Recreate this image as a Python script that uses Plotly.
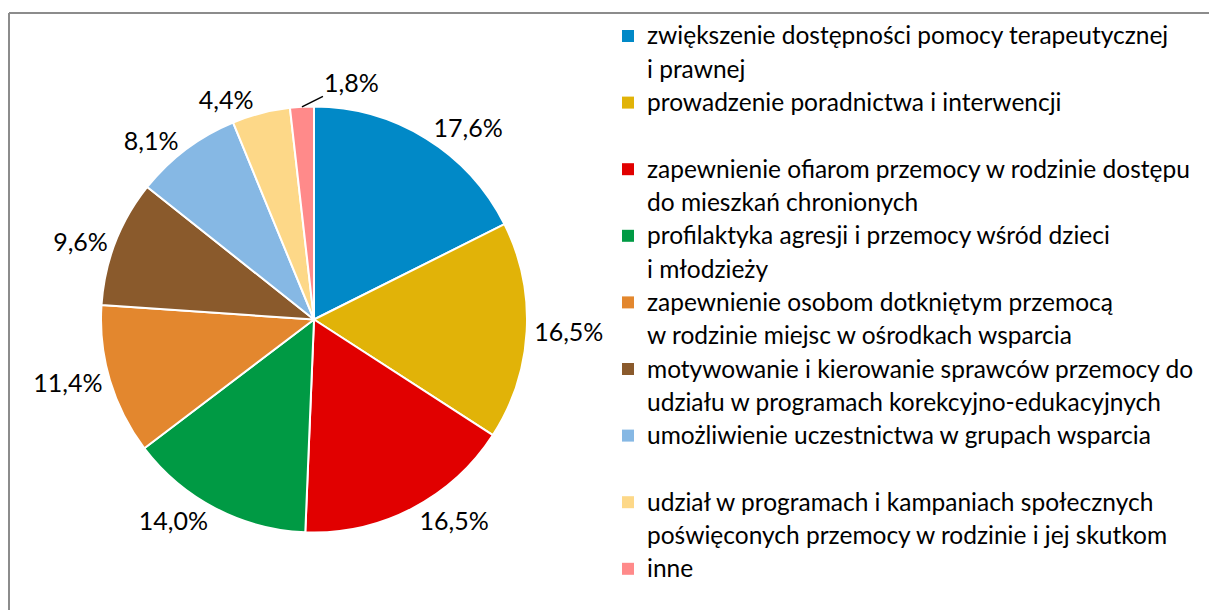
import math
import plotly.graph_objects as go

# Categories, shares (%) and legend line breaks
categories = [
    "zwiększenie dostępności pomocy terapeutycznej i prawnej",
    "prowadzenie poradnictwa i interwencji",
    "zapewnienie ofiarom przemocy w rodzinie dostępu do mieszkań chronionych",
    "profilaktyka agresji i przemocy wśród dzieci i młodzieży",
    "zapewnienie osobom dotkniętym przemocą w rodzinie miejsc w ośrodkach wsparcia",
    "motywowanie i kierowanie sprawców przemocy do udziału w programach korekcyjno-edukacyjnych",
    "umożliwienie uczestnictwa w grupach wsparcia",
    "udział w programach i kampaniach społecznych poświęconych przemocy w rodzinie i jej skutkom",
    "inne",
]
shares = [17.6, 16.5, 16.5, 14.0, 11.4, 9.6, 8.1, 4.4, 1.8]
legend_lines = [
    ["zwiększenie dostępności pomocy terapeutycznej", "i prawnej"],
    ["prowadzenie poradnictwa i interwencji"],
    ["zapewnienie ofiarom przemocy w rodzinie dostępu", "do mieszkań chronionych"],
    ["profilaktyka agresji i przemocy wśród dzieci", "i młodzieży"],
    ["zapewnienie osobom dotkniętym przemocą", "w rodzinie miejsc w ośrodkach wsparcia"],
    ["motywowanie i kierowanie sprawców przemocy do", "udziału w programach korekcyjno-edukacyjnych"],
    ["umożliwienie uczestnictwa w grupach wsparcia"],
    ["udział w programach i kampaniach społecznych", "poświęconych przemocy w rodzinie i jej skutkom"],
    ["inne"],
]
colors = ["#0189C7", "#E1B308", "#E10000", "#009A44", "#E3872E",
          "#8A5A2C", "#86B8E4", "#FDD888", "#FF8A8A"]

W, H = 1209, 610
FONT = "Lato"
LABEL_SIZE = 25

fig = go.Figure()

# Pie geometry in pixels
cx, cy, r = 314, 319.5, 213

# The smallest slice gets a callout label with a leader line instead
small = len(shares) - 1
textpos = ["outside"] * len(shares)
textpos[small] = "none"

fig.add_trace(go.Pie(
    labels=categories,
    values=shares,
    sort=False,
    direction="clockwise",
    rotation=0,
    marker=dict(colors=colors, line=dict(color="white", width=2)),
    texttemplate="%{value:.1f}%",
    textposition=textpos,
    textfont=dict(family=FONT, size=LABEL_SIZE, color="#000000"),
    showlegend=False,
    hoverinfo="label+value",
    domain=dict(x=[(cx - r) / W, (cx + r) / W],
                y=[1 - (cy + r) / H, 1 - (cy - r) / H]),
))

shapes = []
annotations = []

# Callout for the smallest slice: anchor at the slice's mid-angle on the rim
total = sum(shares)
mid = (sum(shares[:small]) + shares[small] / 2) / total * 2 * math.pi
px = cx + r * math.sin(mid)
py = cy - r * math.cos(mid)
annotations.append(dict(
    x=px / W, y=1 - py / H, xref="paper", yref="paper",
    text=f"{shares[small]:.1f}%".replace(".", ","),
    showarrow=True, arrowhead=0, arrowwidth=1.5, arrowcolor="#000000",
    ax=50, ay=-25, xanchor="center", yanchor="middle",
    font=dict(family=FONT, size=LABEL_SIZE, color="#000000")))

# Legend drawn as swatches and text lines
top_line = 35
line_h = 33.3
entry_h = 2 * line_h
text_x = 645
sw_x0, sw_size = 622, 12
for i, (lines, col) in enumerate(zip(legend_lines, colors)):
    y0 = top_line + i * entry_h
    shapes.append(dict(type="rect", xref="paper", yref="paper",
                       x0=sw_x0 / W, x1=(sw_x0 + sw_size) / W,
                       y0=1 - (y0 + 1 + sw_size / 2) / H,
                       y1=1 - (y0 + 1 - sw_size / 2) / H,
                       fillcolor=col, line=dict(width=0)))
    for j, txt in enumerate(lines):
        annotations.append(dict(
            x=text_x / W, y=1 - (y0 + j * line_h) / H,
            xref="paper", yref="paper", xanchor="left", yanchor="middle",
            text=txt, showarrow=False,
            font=dict(family=FONT, size=24.5, color="#000000")))

# Chart frame (left and top edges)
frame = dict(color="#8C8C8C", width=2)
shapes.append(dict(type="line", xref="paper", yref="paper",
                   x0=9 / W, x1=9 / W, y0=0, y1=1 - 13 / H, line=frame))
shapes.append(dict(type="line", xref="paper", yref="paper",
                   x0=9 / W, x1=1, y0=1 - 13 / H, y1=1 - 13 / H, line=frame))

fig.update_layout(
    width=W, height=H,
    margin=dict(l=0, r=0, t=0, b=0),
    paper_bgcolor="white",
    plot_bgcolor="white",
    separators=", ",
    shapes=shapes,
    annotations=annotations,
)

fig.write_html("out.html")
